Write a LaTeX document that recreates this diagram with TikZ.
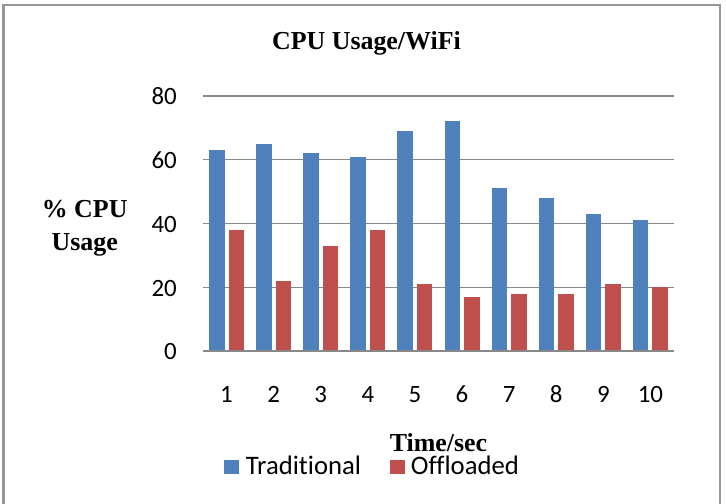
\documentclass[tikz,border=0pt]{standalone}
\usepackage{fontspec}
\setmainfont{Liberation Serif}
\newfontfamily\carlito[Ligatures=NoCommon]{Carlito}
\usepackage{tikz}
\definecolor{trad}{HTML}{4F81BD}
\definecolor{offl}{HTML}{C0504D}
\definecolor{gridgray}{HTML}{888888}
\definecolor{framegray}{HTML}{979797}
\newcommand{\catw}{47.1}
\newcommand{\vs}{3.1875}
\tikzset{
  gridline/.style={draw=gridgray, line width=1.3bp},
  frameline/.style={draw=framegray, line width=2.6bp},
  tradbar/.style={fill=trad},
  offlbar/.style={fill=offl},
  ticklab/.style={font=\carlito\fontsize{25}{30}\selectfont, inner sep=0pt},
  leglab/.style={font=\carlito\fontsize{26.8}{32}\selectfont, inner sep=0pt},
  boldlab/.style={font=\bfseries\fontsize{26}{34}\selectfont, inner sep=0pt},
}

\begin{document}
\begin{tikzpicture}[x=1bp, y=1bp]
  \useasboundingbox (-203,-153) rectangle (523,351);
  % outer frame (open at the bottom)
  \draw[frameline] (-199.5,-160) -- (-199.5,346) -- (517,346) -- (517,-160);
  % grid and value labels
  \foreach \v in {20,40,60,80}
    \draw[gridline] (0,\v*\vs) -- (471,\v*\vs);
  \foreach \v in {0,20,40,60,80}
    \node[ticklab, anchor=base east] (ytick\v) at (-26,\v*\vs-9) {\v};
  % bars
  \foreach \t/\o [count=\i] in {63/38,65/22,62/33,61/38,69/21,72/17,51/18,48/18,43/21,41/20} {
    \fill[tradbar] ({(\i-0.5)*\catw-17.5},0) rectangle ++(15.5,\t*\vs);
    \fill[offlbar] ({(\i-0.5)*\catw+2},0) rectangle ++(15.5,\o*\vs);
    \node[ticklab, anchor=base] (xtick\i) at ({(\i-0.5)*\catw},-51.3) {\i};
  }
  \draw[gridline] (0,0) -- (471,0);
  % titles
  \node[boldlab, anchor=base] (title) at (163.5,301.7) {CPU Usage/WiFi};
  \node[boldlab, anchor=base, align=center] (ylab) at (-118.3,100) {\% CPU\\Usage};
  \node[boldlab, anchor=base] (xlab) at (235.5,-101) {Time/sec};
  % legend
  \fill[tradbar] (21,-109) rectangle (36,-123.3);
  \node[leglab, anchor=base west] (legtrad) at (42.7,-123.3) {Traditional};
  \fill[offlbar] (187,-109) rectangle (201.7,-123.3);
  \node[leglab, anchor=base west] (legoffl) at (207.7,-123.3) {Offloaded};
\end{tikzpicture}
\end{document}
